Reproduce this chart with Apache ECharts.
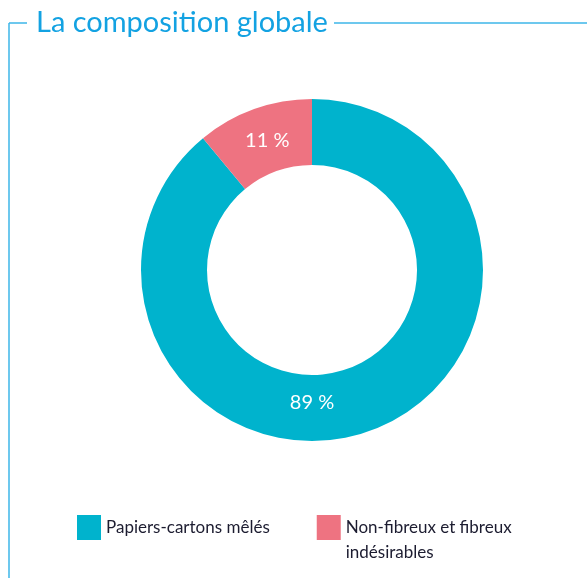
<!DOCTYPE html>
<html><head><meta charset="utf-8">
<script src="https://cdn.jsdelivr.net/npm/echarts@6/dist/echarts.min.js"></script>
<style>html,body{margin:0;padding:0;background:#fff}#c{width:587px;height:578px}</style>
</head><body><div id="c"></div>
<script>
const titleText = 'La composition globale';
const categories = ['Papiers-cartons mêlés', 'Non-fibreux et fibreux indésirables'];
const values = [89, 11];
const colors = ['#00B3CD', '#EE7381'];

const chart = echarts.init(document.getElementById('c'));
const cx = 312, cy = 270;
chart.setOption({
  animation: false,
  title: {
    text: titleText, left: 31, top: 3,
    textStyle: { fontFamily: 'Lato', fontWeight: 'normal', fontSize: 29, color: '#13A2E2' }
  },
  graphic: [
    { type: 'line', shape: { x1: 9, y1: 23, x2: 27, y2: 23 }, style: { stroke: '#3DB6E8', lineWidth: 1.5 } },
    { type: 'line', shape: { x1: 9, y1: 23, x2: 9, y2: 578 }, style: { stroke: '#3DB6E8', lineWidth: 1.5 } },
    { type: 'line', shape: { x1: 334, y1: 23, x2: 587, y2: 23 }, style: { stroke: '#3DB6E8', lineWidth: 1.5 } }
  ],
  legend: {
    left: 72, top: 485, orient: 'horizontal',
    itemWidth: 24, itemHeight: 25, itemGap: 47,
    icon: 'rect',
    data: categories,
    formatter: function (name) {
      return name === categories[1] ? '\nNon-fibreux et fibreux\nindésirables' : name;
    },
    textStyle: { fontFamily: 'Lato', fontSize: 17, color: '#1C1C30', lineHeight: 25 }
  },
  series: [{
    type: 'pie',
    center: [cx, cy],
    radius: [105, 171],
    startAngle: 90,
    clockwise: true,
    avoidLabelOverlap: false,
    itemStyle: { borderWidth: 0 },
    label: {
      show: true, position: 'inside',
      formatter: '{c} %',
      color: '#fff', fontFamily: 'Lato', fontSize: 20
    },
    labelLine: { show: false },
    labelLayout: function (p) {
      if (p.dataIndex === 0) return { x: cx, y: cy + 133, align: 'center', verticalAlign: 'middle' };
      return { dx: 3, dy: 3 };
    },
    data: categories.map((n, i) => ({ name: n, value: values[i], itemStyle: { color: colors[i] } }))
  }]
});
</script></body></html>
